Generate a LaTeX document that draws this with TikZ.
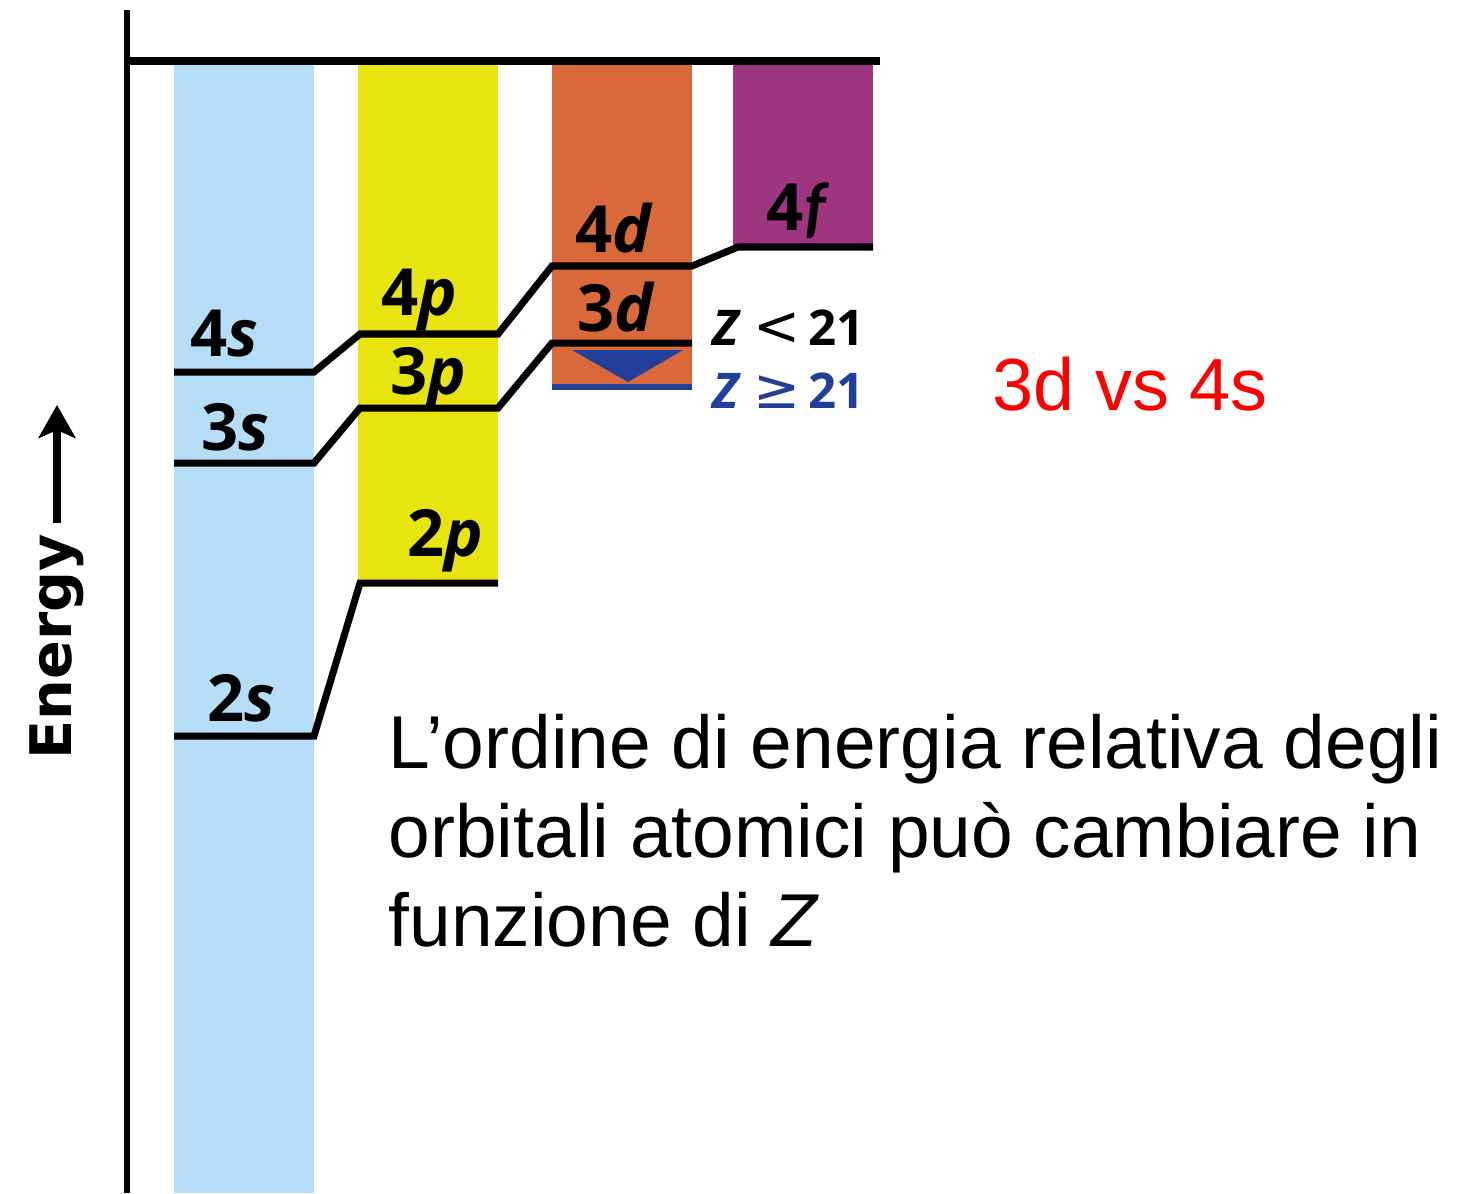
\documentclass[tikz,border=0pt]{standalone}
\usepackage{fontspec}
\usetikzlibrary{arrows.meta}
\setmainfont{Liberation Sans}
\newfontfamily\opensans{Open Sans}
\newfontfamily\latofont{Lato}
\newfontfamily\dejavu{DejaVu Sans}
\definecolor{sblue}{HTML}{B5DDF8}
\definecolor{pyellow}{HTML}{E8E40F}
\definecolor{dorange}{HTML}{D9693B}
\definecolor{fpurple}{HTML}{9E3581}
\definecolor{zblue}{HTML}{22409A}

\begin{document}
\begin{tikzpicture}[x=0.01cm, y=-0.01cm,
    lvl/.style={line width=2pt, line join=miter},
    orb/.style={anchor=base, inner sep=0pt, font=\opensans\bfseries\fontsize{18.5pt}{18.5pt}\selectfont},
    zlbl/.style={anchor=base west, inner sep=0pt, font=\opensans\bfseries\fontsize{14pt}{14pt}\selectfont},
    body/.style={anchor=base west, inner sep=0pt, font=\fontsize{21.3pt}{25pt}\selectfont}]
    \useasboundingbox (0,0) rectangle (1458,1193);

    % columns
    \fill[sblue] (174,65) rectangle (314,1193);
    \fill[pyellow] (358,65) rectangle (498,583);
    \fill[dorange] (552,65) rectangle (692,388);
    \fill[fpurple] (733,65) rectangle (873,247);

    % axes
    \draw[line width=1.8pt] (127,10) -- (127,1193);
    \draw[line width=2pt] (124,61) -- (880,61);

    % energy levels
    \coordinate (2s-l) at (174,736); \coordinate (2s-r) at (314,736);
    \coordinate (3s-l) at (174,463); \coordinate (3s-r) at (314,463);
    \coordinate (4s-l) at (174,372); \coordinate (4s-r) at (314,372);
    \coordinate (2p-l) at (360,583); \coordinate (2p-r) at (498,583);
    \coordinate (3p-l) at (360,408); \coordinate (3p-r) at (498,408);
    \coordinate (4p-l) at (360,334); \coordinate (4p-r) at (498,334);
    \coordinate (3d-l) at (552,343); \coordinate (3d-r) at (692,343);
    \coordinate (4d-l) at (552,266); \coordinate (4d-r) at (692,266);
    \coordinate (4f-l) at (738,247); \coordinate (4f-r) at (873,247);

    \draw[lvl] (2s-l) -- (2s-r) -- (2p-l) -- (2p-r);
    \draw[lvl] (3s-l) -- (3s-r) -- (3p-l) -- (3p-r) -- (3d-l) -- (3d-r);
    \draw[lvl] (4s-l) -- (4s-r) -- (4p-l) -- (4p-r) -- (4d-l) -- (4d-r) -- (4f-l) -- (4f-r);

    % 3d shift for Z >= 21
    \fill[zblue] (572,350) -- (683,350) -- (628,382) -- cycle;
    \draw[zblue, line width=1.8pt] (552,387) -- (692,387);

    % orbital labels
    \node[orb] (l2s) at (241,721) {2\textit{s}};
    \node[orb] (l3s) at (235,450) {3\textit{s}};
    \node[orb] (l4s) at (224,356) {4\textit{s}};
    \node[orb] (l2p) at (445,556) {2\textit{p}};
    \node[orb] (l3p) at (428,394) {3\textit{p}};
    \node[orb] (l4p) at (419,315) {4\textit{p}};
    \node[orb] (l3d) at (616,331) {3\textit{d}};
    \node[orb] (l4d) at (614,252) {4\textit{d}};
    \node[orb] (l4f) at (798,230) {4{\latofont\textit{f}}};

    \node[zlbl] (zlow) at (712,345) {\textit{Z}\hspace{0.12cm}{\dejavu\mdseries\fontsize{16pt}{16pt}\selectfont <}\hspace{0.08cm}21};
    \node[zlbl, text=zblue] (zhigh) at (712,408) {\textit{Z}\hspace{0.12cm}{\dejavu\mdseries\fontsize{16pt}{16pt}\selectfont ≥}\hspace{0.08cm}21};

    % energy axis label
    \node[rotate=90, anchor=base west, inner sep=0pt, font=\dejavu\bfseries\fontsize{16.3pt}{16pt}\selectfont] (energy) at (71,760) {Energy};
    \coordinate (arr-s) at (57,523);
    \coordinate (arr-e) at (57,405);
    \draw[line width=2pt, -{Stealth[length=0.33cm, width=0.37cm, inset=0.08cm]}] (arr-s) -- (arr-e);

    % texts
    \node[anchor=base, inner sep=0pt, text=red, font=\fontsize{21pt}{25pt}\selectfont] (vs) at (1130,410) {3d vs 4s};
    \node[body] (txt1) at (388,768) {L’ordine di energia relativa degli};
    \node[body] (txt2) at (388,857) {orbitali atomici può cambiare in};
    \node[body] (txt3) at (388,946) {funzione di \textit{Z}};
\end{tikzpicture}
\end{document}
